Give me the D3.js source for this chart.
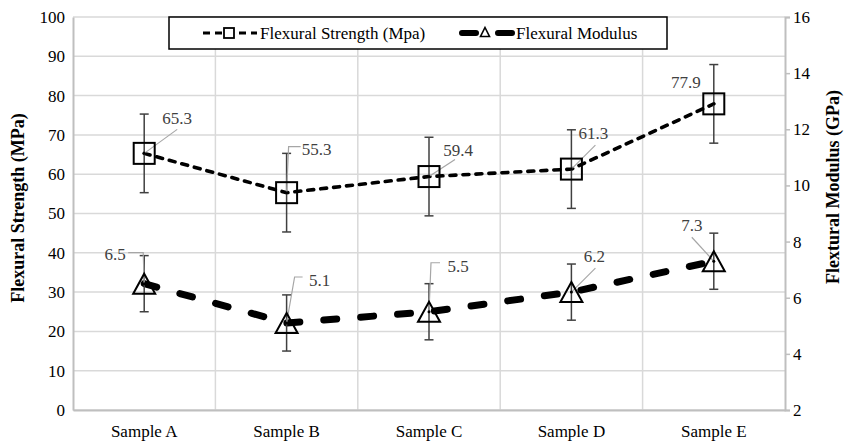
<!DOCTYPE html>
<html>
<head>
<meta charset="utf-8">
<script src="https://cdn.jsdelivr.net/npm/d3@7"></script>
<style>
  html, body { margin: 0; padding: 0; background: #fff; }
  svg, svg text { font-family: "Liberation Serif", "Times New Roman", serif; }
</style>
</head>
<body>
<svg id="chart" width="844" height="443"></svg>
<script>
// Samples and measured values
const categories = ["Sample A", "Sample B", "Sample C", "Sample D", "Sample E"];
const strength = [65.3, 55.3, 59.4, 61.3, 77.9];       // MPa
const strengthErr = [10, 10, 10, 10, 10];
const modulus = [6.5, 5.1, 5.5, 6.2, 7.3];             // GPa
const modulusErr = [1, 1, 1, 1, 1];
const leftTicks = [0, 10, 20, 30, 40, 50, 60, 70, 80, 90, 100];
const rightTicks = [2, 4, 6, 8, 10, 12, 14, 16];
const strengthName = "Flexural Strength (Mpa)";
const modulusName = "Flexural Modulus";
const leftTitle = "Flexural Strength (MPa)";
const rightTitle = "Flextural Modulus (GPa)";

// Label placement relative to each point: text centre offset and leader path
const strengthLabelLayout = [
  { dx: 33, dy: -35, leader: [[33, -24]] },
  { dx: 30, dy: -44, leader: [[14, -46], [2, -46]] },
  { dx: 29, dy: -27, leader: [[26, -17]] },
  { dx: 22, dy: -36, leader: [[24, -24]] },
  { dx: -28, dy: -22, leader: null }
];
const modulusLabelLayout = [
  { dx: -29, dy: -30, leader: [[-16, -31], [-1, -31]] },
  { dx: 33, dy: -43, leader: [[16, -46], [8, -46]] },
  { dx: 29, dy: -46, leader: [[11, -49], [2, -49]] },
  { dx: 23, dy: -36, leader: [[24, -24]] },
  { dx: -22, dy: -36, leader: [[-22, -24]] }
];

const FONT = "'Liberation Serif', 'Times New Roman', serif";
const svg = d3.select("#chart").attr("font-family", FONT);
const plot = { left: 73, right: 785, top: 17, bottom: 410 };

const x = d3.scaleBand().domain(categories).range([plot.left, plot.right]);
const yL = d3.scaleLinear().domain([0, 100]).range([plot.bottom, plot.top]);
const yR = d3.scaleLinear().domain([2, 16]).range([plot.bottom, plot.top]);
const cx = c => x(c) + x.bandwidth() / 2;

const gridColor = "#d9d9d9";
const axisColor = "#bfbfbf";
const textColor = "#000";
const labelColor = "#404040";

// Gridlines
const grid = svg.append("g");
grid.selectAll("line.h").data(leftTicks).join("line")
  .attr("x1", plot.left).attr("x2", plot.right)
  .attr("y1", d => yL(d)).attr("y2", d => yL(d))
  .attr("stroke", gridColor).attr("stroke-width", 1.5);
grid.selectAll("line.v").data(categories.slice(1)).join("line")
  .attr("x1", d => x(d)).attr("x2", d => x(d))
  .attr("y1", plot.top).attr("y2", plot.bottom)
  .attr("stroke", gridColor).attr("stroke-width", 1.5);

// Axes
const leftAxis = svg.append("g").attr("transform", `translate(${plot.left},0)`)
  .call(d3.axisLeft(yL).tickValues(leftTicks).tickSize(0).tickPadding(8));
const rightAxis = svg.append("g").attr("transform", `translate(${plot.right},0)`)
  .call(d3.axisRight(yR).tickValues(rightTicks).tickSize(5).tickPadding(3));
const bottomAxis = svg.append("g").attr("transform", `translate(0,${plot.bottom})`)
  .call(d3.axisBottom(x).tickSize(0).tickPadding(15));

[leftAxis, rightAxis, bottomAxis].forEach(g => {
  g.attr("font-family", FONT).attr("font-size", 17);
  g.select(".domain").attr("stroke", axisColor).attr("stroke-width", 2);
  g.selectAll(".tick line").attr("stroke", axisColor).attr("stroke-width", 1.5);
  g.selectAll(".tick text").attr("fill", textColor).attr("font-family", FONT);
});

// Axis titles
svg.append("text")
  .attr("transform", `translate(24,208) rotate(-90)`)
  .attr("text-anchor", "middle").attr("font-family", FONT)
  .attr("font-size", 18).attr("font-weight", "bold")
  .text(leftTitle);
svg.append("text")
  .attr("transform", `translate(839,187) rotate(-90)`)
  .attr("text-anchor", "middle").attr("font-family", FONT)
  .attr("font-size", 18).attr("font-weight", "bold")
  .text(rightTitle);

// Series lines
const strengthPts = categories.map((c, i) => [cx(c), yL(strength[i])]);
const modulusPts = categories.map((c, i) => [cx(c), yR(modulus[i])]);

svg.append("path").attr("d", d3.line()(strengthPts))
  .attr("fill", "none").attr("stroke", "#000").attr("stroke-width", 3.6)
  .attr("stroke-dasharray", "6,7").attr("stroke-linecap", "round");
svg.append("path").attr("d", d3.line()(modulusPts))
  .attr("fill", "none").attr("stroke", "#000").attr("stroke-width", 7)
  .attr("stroke-dasharray", "13,24").attr("stroke-linecap", "round");

// Error bars
function errorBars(values, errs, scale) {
  const g = svg.append("g").attr("stroke", "#404040").attr("stroke-width", 1.5);
  categories.forEach((c, i) => {
    const xc = cx(c), hi = scale(values[i] + errs[i]), lo = scale(values[i] - errs[i]);
    g.append("line").attr("x1", xc).attr("x2", xc).attr("y1", hi).attr("y2", lo);
    g.append("line").attr("x1", xc - 4.5).attr("x2", xc + 4.5).attr("y1", hi).attr("y2", hi);
    g.append("line").attr("x1", xc - 4.5).attr("x2", xc + 4.5).attr("y1", lo).attr("y2", lo);
  });
}
errorBars(strength, strengthErr, yL);
errorBars(modulus, modulusErr, yR);

// Data labels with leader lines
function dataLabels(pts, values, layout) {
  const g = svg.append("g");
  pts.forEach((p, i) => {
    const L = layout[i];
    if (L.leader) {
      const path = L.leader.map(o => [p[0] + o[0], p[1] + o[1]]).concat([p]);
      g.append("path").attr("d", d3.line()(path))
        .attr("fill", "none").attr("stroke", "#a6a6a6").attr("stroke-width", 1.2);
    }
    g.append("text")
      .attr("x", p[0] + L.dx).attr("y", p[1] + L.dy)
      .attr("dy", "0.35em").attr("text-anchor", "middle")
      .attr("fill", labelColor).attr("font-family", FONT).attr("font-size", 17)
      .text(values[i].toFixed(1));
  });
}
dataLabels(strengthPts, strength, strengthLabelLayout);
dataLabels(modulusPts, modulus, modulusLabelLayout);

// Markers
const markers = svg.append("g").attr("fill", "none").attr("stroke", "#000").attr("stroke-width", 2);
strengthPts.forEach(p => {
  markers.append("rect").attr("x", p[0] - 10.5).attr("y", p[1] - 10.5)
    .attr("width", 21).attr("height", 21);
});
const tri = (px, py, w, h) => `M${px},${py - h / 2}L${px + w / 2},${py + h / 2}L${px - w / 2},${py + h / 2}Z`;
modulusPts.forEach(p => {
  markers.append("path").attr("d", tri(p[0], p[1], 22, 20));
});
svg.append("g").selectAll("circle").data(strengthPts.concat(modulusPts)).join("circle")
  .attr("cx", d => d[0]).attr("cy", d => d[1]).attr("r", 1.5).attr("fill", "#000");

// Legend
const lg = svg.append("g");
lg.append("rect").attr("x", 169).attr("y", 17).attr("width", 498).attr("height", 32)
  .attr("fill", "#fff").attr("stroke", "#000").attr("stroke-width", 1.5);
lg.append("line").attr("x1", 203).attr("x2", 257).attr("y1", 33).attr("y2", 33)
  .attr("stroke", "#000").attr("stroke-width", 3).attr("stroke-dasharray", "7,5");
lg.append("rect").attr("x", 224).attr("y", 28).attr("width", 10).attr("height", 10)
  .attr("fill", "#fff").attr("stroke", "#000").attr("stroke-width", 1.8);
lg.append("text").attr("x", 260).attr("y", 33).attr("dy", "0.35em")
  .attr("font-family", FONT).attr("font-size", 17).text(strengthName);
lg.append("line").attr("x1", 462).attr("x2", 512).attr("y1", 33).attr("y2", 33)
  .attr("stroke", "#000").attr("stroke-width", 6).attr("stroke-linecap", "round")
  .attr("stroke-dasharray", "14,22");
lg.append("path").attr("d", tri(485, 32, 9, 9))
  .attr("fill", "#fff").attr("stroke", "#000").attr("stroke-width", 1.6);
lg.append("text").attr("x", 516).attr("y", 33).attr("dy", "0.35em")
  .attr("font-family", FONT).attr("font-size", 17).text(modulusName);
</script>
</body>
</html>
